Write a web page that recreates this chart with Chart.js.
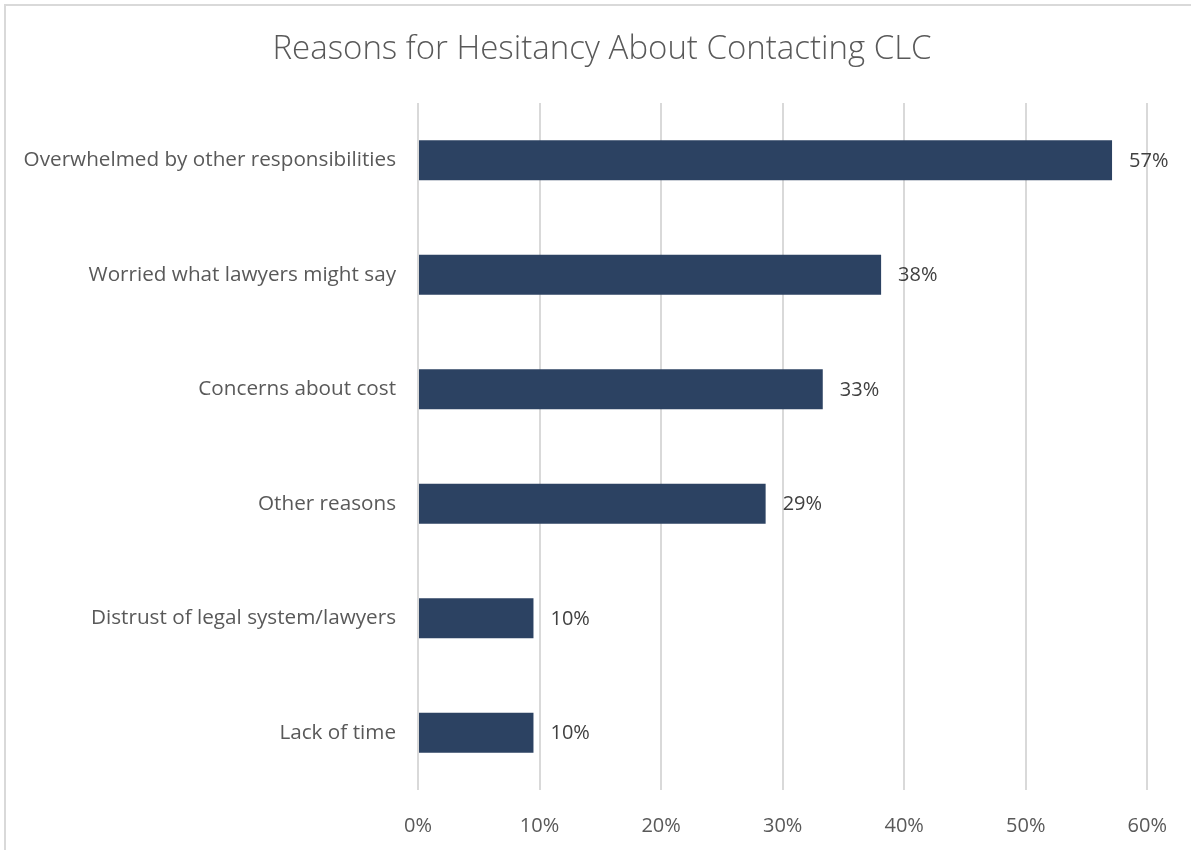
<!DOCTYPE html>
<html>
<head>
<meta charset="utf-8">
<title>Reasons for Hesitancy About Contacting CLC</title>
<script src="https://cdn.jsdelivr.net/npm/chart.js@4/dist/chart.umd.min.js"></script>
<style>
  html, body { margin: 0; padding: 0; background: #ffffff; }
  #wrap { position: relative; width: 1191px; height: 850px; }
  canvas { display: block; }
</style>
</head>
<body>
<div id="wrap"><canvas id="chart" width="1191" height="850"></canvas></div>
<script>
// Survey responses: share of respondents citing each reason (%)
const chartTitle = 'Reasons for Hesitancy About Contacting CLC';
const reasons = [
  'Overwhelmed by other responsibilities',
  'Worried what lawyers might say',
  'Concerns about cost',
  'Other reasons',
  'Distrust of legal system/lawyers',
  'Lack of time'
];
const shares = [57.1, 38.1, 33.3, 28.6, 9.5, 9.5];
const axisMax = 60;
const axisStep = 10;

const FONT = '"Open Sans", "DejaVu Sans", sans-serif';
const BAR_COLOR = '#2c4262';
const GRID_COLOR = '#d9d9d9';

// White background and a thin frame along the top and left edges
const framePlugin = {
  id: 'frame',
  beforeDraw(chart) {
    const ctx = chart.ctx;
    ctx.save();
    ctx.fillStyle = '#ffffff';
    ctx.fillRect(0, 0, chart.width, chart.height);
    ctx.strokeStyle = GRID_COLOR;
    ctx.lineWidth = 2;
    ctx.beginPath();
    ctx.moveTo(5, chart.height);
    ctx.lineTo(5, 5);
    ctx.lineTo(chart.width, 5);
    ctx.stroke();
    ctx.restore();
  }
};

// Title centred over the frame's inner width
const headingPlugin = {
  id: 'heading',
  afterDraw(chart) {
    const ctx = chart.ctx;
    ctx.save();
    ctx.font = '300 33px ' + FONT;
    ctx.fillStyle = '#595959';
    ctx.textAlign = 'center';
    ctx.textBaseline = 'middle';
    ctx.fillText(chartTitle, 602, 50);
    ctx.restore();
  }
};

// Percentage labels at the end of each bar
const valueLabelPlugin = {
  id: 'valueLabels',
  afterDatasetsDraw(chart) {
    const ctx = chart.ctx;
    const meta = chart.getDatasetMeta(0);
    ctx.save();
    ctx.font = '20px ' + FONT;
    ctx.fillStyle = '#404040';
    ctx.textAlign = 'left';
    ctx.textBaseline = 'middle';
    meta.data.forEach((bar, i) => {
      const v = chart.data.datasets[0].data[i];
      ctx.fillText(Math.round(v) + '%', bar.x + 17, bar.y + 1);
    });
    ctx.restore();
  }
};

new Chart(document.getElementById('chart'), {
  type: 'bar',
  data: {
    labels: reasons,
    datasets: [{
      data: shares,
      backgroundColor: BAR_COLOR,
      borderWidth: 0,
      barPercentage: 0.7,
      categoryPercentage: 0.5
    }]
  },
  options: {
    indexAxis: 'y',
    responsive: false,
    animation: false,
    devicePixelRatio: 1,
    layout: { padding: { left: 0, right: 43, top: 103, bottom: 0 } },
    plugins: {
      legend: { display: false },
      tooltip: { enabled: false },
      title: { display: false }
    },
    scales: {
      x: {
        min: 0,
        max: axisMax,
        border: { display: false },
        grid: { color: GRID_COLOR, lineWidth: 2, drawTicks: false },
        ticks: {
          stepSize: axisStep,
          padding: 24,
          color: '#595959',
          font: { family: FONT, size: 20 },
          callback: v => v + '%'
        },
        afterFit(scale) { scale.height = 60; }
      },
      y: {
        border: { display: false },
        grid: { display: false, drawTicks: false },
        ticks: {
          padding: 22,
          color: '#595959',
          font: { family: FONT, size: 20.7 }
        },
        afterFit(scale) { scale.width = 418; }
      }
    }
  },
  plugins: [framePlugin, headingPlugin, valueLabelPlugin]
});
</script>
</body>
</html>
